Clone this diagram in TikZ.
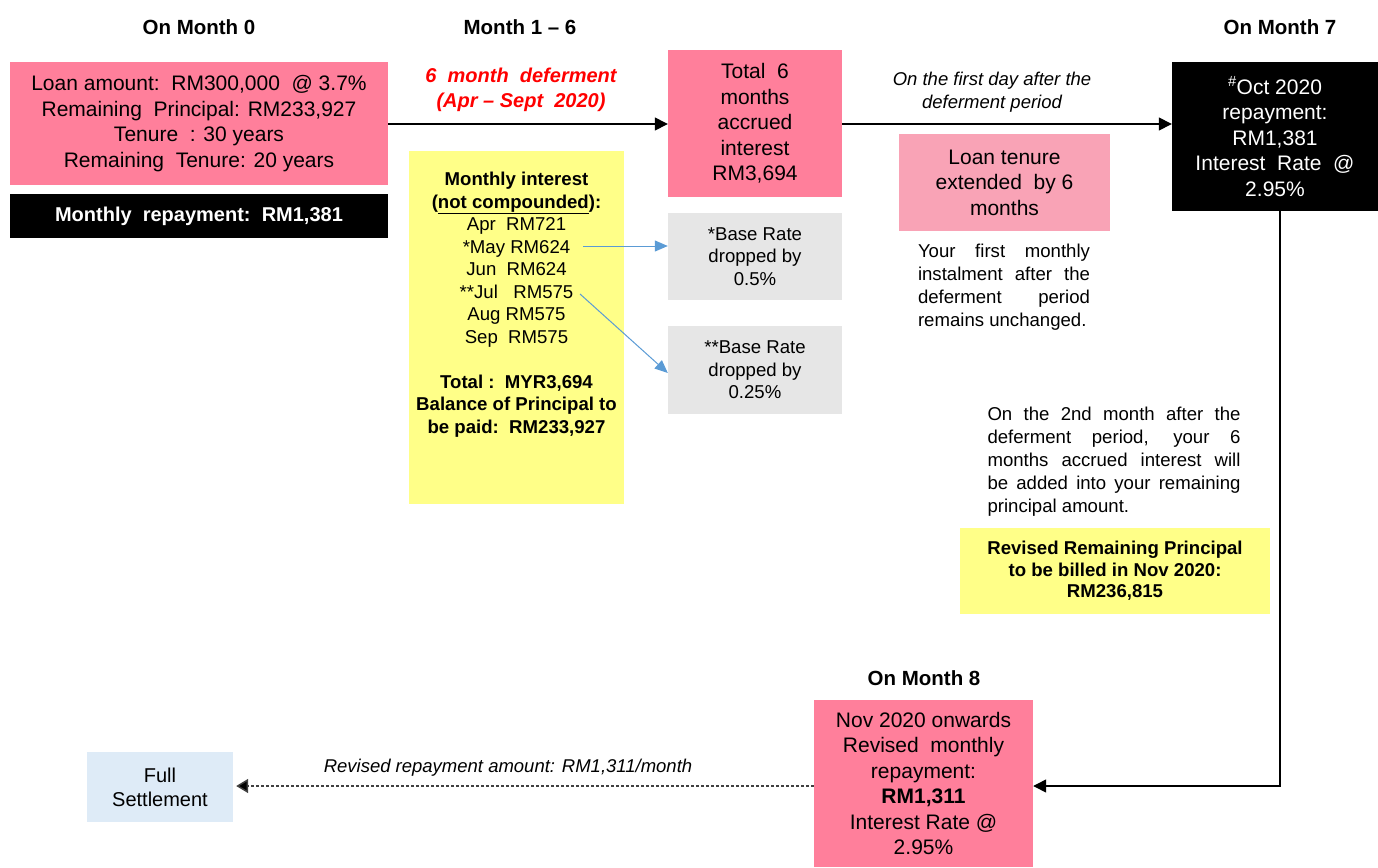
\documentclass[tikz,border=0pt]{standalone}
\usepackage{fontspec}
\setmainfont{Liberation Sans}
\usetikzlibrary{arrows.meta}
\definecolor{pinkA}{HTML}{FF7F9B}
\definecolor{pinkB}{HTML}{F9A3B6}
\definecolor{yelA}{HTML}{FFFF88}
\definecolor{grayA}{HTML}{E6E6E6}
\definecolor{blueA}{HTML}{DEEBF7}
\definecolor{arrblue}{HTML}{5B9BD5}
\definecolor{dashgray}{HTML}{404040}
\tikzset{
  boxbase/.style={inner sep=0pt, align=center, text=black},
  bigtxt/.style={font=\fontsize{21}{25.5}\selectfont},
  midtxt/.style={font=\fontsize{18.6}{22.5}\selectfont},
  titletxt/.style={font=\bfseries\fontsize{20.5}{24}\selectfont},
  notetxt/.style={font=\fontsize{18.6}{23}\selectfont, align=justify, inner sep=0pt},
  mainarrow/.style={line width=1.4pt, -{Triangle[length=13pt,width=13pt]}},
  bluearrow/.style={arrblue, line width=1pt, -{Triangle[length=13pt,width=11pt]}},
  dasharrow/.style={dashgray, line width=1.5pt, dash pattern=on 3pt off 2pt, -{Triangle[length=12pt,width=14pt,fill=black]}},
}
\begin{document}
\begin{tikzpicture}[x=1pt,y=-1pt]
\useasboundingbox (0,0) rectangle (1378,867);

% titles
\node[titletxt] (t0) at (199,27) {On Month 0};
\node[titletxt] (t1) at (520,27) {Month 1 -- 6};
\node[titletxt] (t7) at (1280,27) {On Month 7};
\node[titletxt] (t8) at (924,678) {On Month 8};

% month 0
\node[boxbase, bigtxt, fill=pinkA, minimum width=378pt, minimum height=123pt] (loan) at (199,123.5)
  {Loan amount:\ \ RM300,000\ \ @ 3.7\%\\Remaining\ \ Principal: RM233,927\\Tenure\ \ : 30 years\\Remaining\ \ Tenure: 20 years};
\node[boxbase, fill=black, text=white, font=\bfseries\fontsize{20}{24}\selectfont, minimum width=378pt, minimum height=44pt] (rep) at (199,216)
  {Monthly\ \ repayment:\ \ RM1,381};

% deferment label
\node[font=\bfseries\itshape\fontsize{20}{24.5}\selectfont, text=red, align=center, inner sep=0pt] (def) at (521,90)
  {6\ \ month\ \ deferment\\(Apr -- Sept\ \ 2020)};

% total box
\node[boxbase, bigtxt, fill=pinkA, minimum width=174pt, minimum height=147pt] (tot) at (755,123.5)
  {Total\ \ 6\\months\\accrued\\interest\\RM3,694};

% yellow box
\node[boxbase, fill=yelA, minimum width=215pt, minimum height=353pt] (yel) at (516.5,327.5) {};
\node[boxbase, midtxt] (yeltxt) at (516.5,304.5)
  {\textbf{Monthly interest}\\\textbf{(\underline{not compounded}):}\\Apr\ \ RM721\\*May RM624\\Jun\ \ RM624\\**Jul\ \ \ RM575\\Aug RM575\\Sep\ \ RM575\\[22.5pt]\textbf{Total :\ \ MYR3,694}\\\textbf{Balance of Principal to}\\\textbf{be paid:\ \ RM233,927}};
\coordinate (may) at (583,246);
\coordinate (jul) at (580,294);

% gray boxes
\node[boxbase, midtxt, fill=grayA, minimum width=174pt, minimum height=87pt] (g1) at (755,256.5)
  {*Base Rate\\dropped by\\0.5\%};
\node[boxbase, midtxt, fill=grayA, minimum width=174pt, minimum height=88pt] (g2) at (755,370)
  {**Base Rate\\dropped by\\0.25\%};

% first day label
\node[font=\itshape\fontsize{18.5}{22.5}\selectfont, align=center, inner sep=0pt] (fd) at (992,92)
  {On the first day after the\\deferment period};

% tenure box
\node[boxbase, bigtxt, fill=pinkB, minimum width=211pt, minimum height=97pt] (ten) at (1004.5,182.5)
  {Loan tenure\\extended\ \ by 6\\months};
\node[notetxt, text width=172pt] (note1) at (1004,287)
  {Your first monthly\linebreak instalment after the\linebreak deferment period\linebreak remains unchanged.};

% oct box
\node[boxbase, bigtxt, fill=black, text=white, minimum width=206pt, minimum height=149pt] (oct) at (1275,136.5)
  {\textsuperscript{\#}Oct 2020\\repayment:\\RM1,381\\Interest\ \ Rate\ \ @\\2.95\%};

% note 2
\node[notetxt, text width=253pt] (note2) at (1114,462)
  {On the 2nd month after the\linebreak deferment period, your 6\linebreak months accrued interest will\linebreak be added into your remaining\linebreak principal amount.};
\node[boxbase, midtxt, fill=yelA, font=\bfseries\fontsize{18.6}{21.5}\selectfont, minimum width=310pt, minimum height=86pt] (yel2) at (1115,571)
  {Revised Remaining Principal\\to be billed in Nov 2020:\\RM236,815};

% month 8
\node[boxbase, bigtxt, fill=pinkA, minimum width=219pt, minimum height=167pt] (m8) at (923.5,783.5)
  {Nov 2020 onwards\\Revised\ \ monthly\\repayment:\\\textbf{RM1,311}\\Interest Rate @\\2.95\%};

% full settlement
\node[boxbase, font=\fontsize{20}{24}\selectfont, fill=blueA, minimum width=146pt, minimum height=70pt] (fs) at (160,787)
  {Full\\Settlement};
\node[font=\itshape\fontsize{18.5}{22}\selectfont, inner sep=0pt] (rev) at (508,768)
  {Revised repayment amount: RM1,311/month};

% connectors
\draw[mainarrow] (loan.east |- 0,124) -- (tot.west |- 0,124);
\draw[mainarrow] (tot.east |- 0,124) -- (oct.west |- 0,124);
\coordinate (octdown) at (1280,211);
\coordinate (corner) at (1280,786);
\draw[mainarrow] (octdown) -- (corner) -- (m8.east |- corner);
\draw[dasharrow] (m8.west |- corner) -- ([xshift=3pt]fs.east |- corner);
\draw[bluearrow] (may) -- (g1.west |- may);
\draw[bluearrow] (jul) -- ([yshift=-3pt]g2.west);
\end{tikzpicture}
\end{document}
